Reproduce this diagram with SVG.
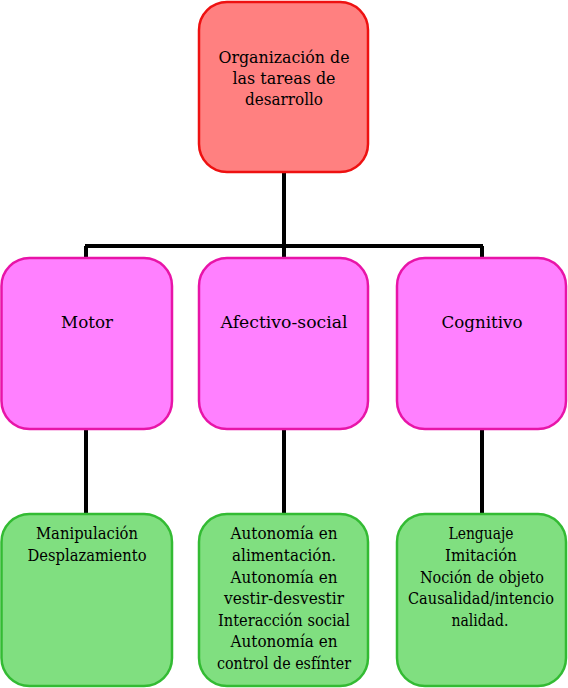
<svg xmlns="http://www.w3.org/2000/svg" width="568" height="688" viewBox="0 0 568 688">
<style>
.top{fill:#FF8080;stroke:#EE1111;stroke-width:2.5}
.mid{fill:#FF80FF;stroke:#E814A8;stroke-width:2.5}
.bot{fill:#80DF80;stroke:#33BB33;stroke-width:2.5}
.c{fill:none;stroke:#000;stroke-width:4}
.t{font-family:'DejaVu Serif',serif;font-size:16.5px;fill:#000;text-anchor:middle}
</style>
<rect width="568" height="688" fill="#fff"/>
<g id="connectors">
<path class="c" d="M284 172V258M85 246H483M86 246V258M482 246V258M86 429V514M284 429V514M482 429V514"/>
</g>
<g id="n-root" class="t" font-family="DejaVu Serif, serif">
<rect class="top" x="199" y="2" width="169" height="170" rx="28"/>
<text x="284" y="63" textLength="131" lengthAdjust="spacingAndGlyphs">Organización de</text>
<text x="284" y="84" textLength="103" lengthAdjust="spacingAndGlyphs">las tareas de</text>
<text x="284" y="105" textLength="78" lengthAdjust="spacingAndGlyphs">desarrollo</text>
</g>
<g id="n-motor" class="t" font-family="DejaVu Serif, serif">
<rect class="mid" x="1.5" y="258" width="170.5" height="171" rx="28"/>
<text x="87" y="328" textLength="52" lengthAdjust="spacingAndGlyphs">Motor</text>
</g>
<g id="n-afectivo" class="t" font-family="DejaVu Serif, serif">
<rect class="mid" x="199" y="258" width="169" height="171" rx="28"/>
<text x="284" y="328" textLength="127" lengthAdjust="spacingAndGlyphs">Afectivo-social</text>
</g>
<g id="n-cognitivo" class="t" font-family="DejaVu Serif, serif">
<rect class="mid" x="397" y="258" width="169" height="171" rx="28"/>
<text x="482" y="328" textLength="81" lengthAdjust="spacingAndGlyphs">Cognitivo</text>
</g>
<g id="n-motor-d" class="t" font-family="DejaVu Serif, serif">
<rect class="bot" x="1.5" y="514" width="170.5" height="172" rx="28"/>
<text x="87" y="539" textLength="102" lengthAdjust="spacingAndGlyphs">Manipulación</text>
<text x="87" y="561" textLength="119" lengthAdjust="spacingAndGlyphs">Desplazamiento</text>
</g>
<g id="n-afectivo-d" class="t" font-family="DejaVu Serif, serif">
<rect class="bot" x="199" y="514" width="169" height="172" rx="28"/>
<text x="284" y="539" textLength="107" lengthAdjust="spacingAndGlyphs">Autonomía en</text>
<text x="284" y="561" textLength="104" lengthAdjust="spacingAndGlyphs">alimentación.</text>
<text x="284" y="583" textLength="107" lengthAdjust="spacingAndGlyphs">Autonomía en</text>
<text x="284" y="604" textLength="120" lengthAdjust="spacingAndGlyphs">vestir-desvestir</text>
<text x="284" y="626" textLength="132" lengthAdjust="spacingAndGlyphs">Interacción social</text>
<text x="284" y="647" textLength="107" lengthAdjust="spacingAndGlyphs">Autonomía en</text>
<text x="284" y="669" textLength="134" lengthAdjust="spacingAndGlyphs">control de esfínter</text>
</g>
<g id="n-cognitivo-d" class="t" font-family="DejaVu Serif, serif">
<rect class="bot" x="397" y="514" width="169" height="172" rx="28"/>
<text x="481" y="539" textLength="65" lengthAdjust="spacingAndGlyphs">Lenguaje</text>
<text x="481" y="561" textLength="72" lengthAdjust="spacingAndGlyphs">Imitación</text>
<text x="482" y="583" textLength="124" lengthAdjust="spacingAndGlyphs">Noción de objeto</text>
<text x="481" y="604" textLength="146" lengthAdjust="spacingAndGlyphs">Causalidad/intencio</text>
<text x="480" y="626" textLength="57" lengthAdjust="spacingAndGlyphs">nalidad.</text>
</g>
</svg>
